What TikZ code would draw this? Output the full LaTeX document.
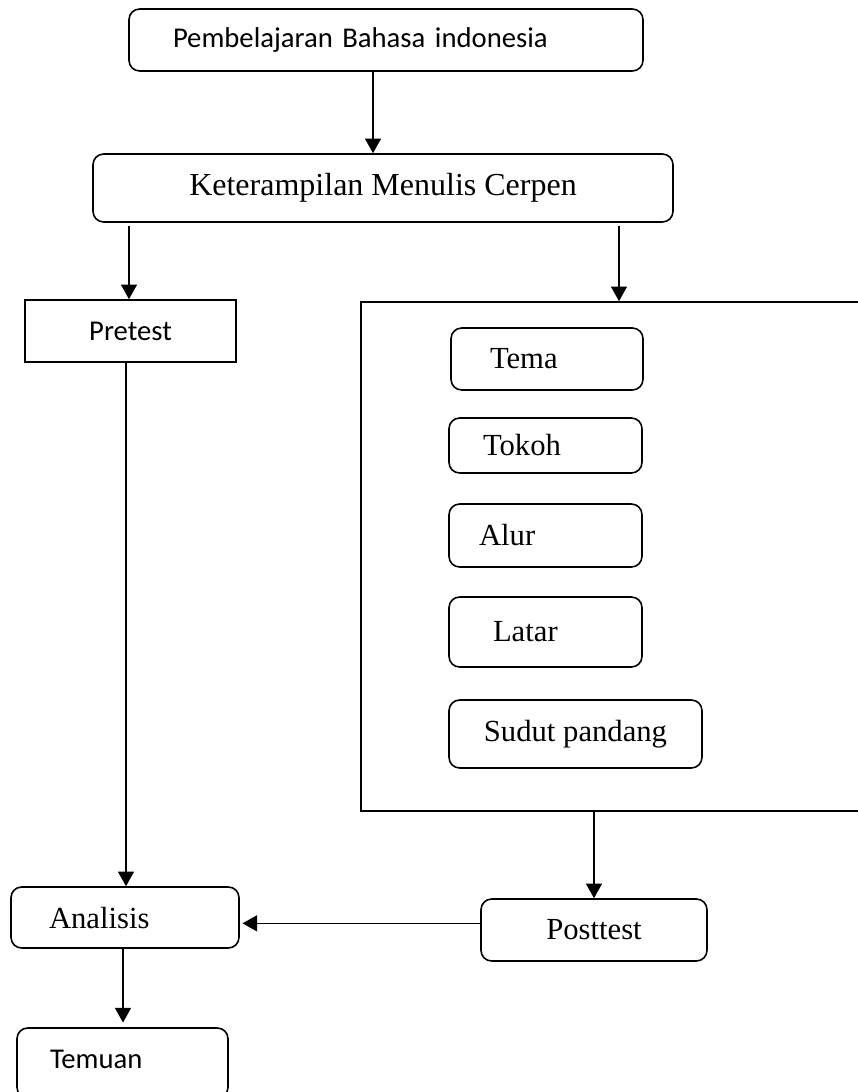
\documentclass[tikz,border=0pt]{standalone}
\usepackage{fontspec}
\setmainfont{Liberation Serif}
\newfontfamily\calibri{Carlito}
\usetikzlibrary{arrows.meta}

\begin{document}
\begin{tikzpicture}[
  x=0.75pt, y=-0.75pt,
  rbox/.style={draw, line width=1.2pt, rounded corners=8pt, inner sep=0pt},
  sbox/.style={draw, line width=1.2pt, inner sep=0pt},
  serif/.style={font=\fontsize{23}{27}\selectfont},
  sans/.style={font=\calibri\fontsize{21.5}{26}\selectfont},
  arr/.style={-{Triangle[length=11pt,width=12pt]}, line width=1.1pt}
]
\useasboundingbox (0,0) rectangle (857,1092);

% Top of the chart
\node[rbox, sans, minimum width=385.5pt, minimum height=46.5pt, inner xsep=33pt, text width=319.5pt, align=left] (top) at (386,40) {Pembelajaran Bahasa indonesia};
\node[rbox, font=\fontsize{24}{28}\selectfont, minimum width=435pt, minimum height=51pt] (ket) at (383,188) {Keterampilan Menulis Cerpen};

% Left branch
\node[sbox, sans, minimum width=158.25pt, minimum height=46.5pt] (pre) at (130.5,331) {Pretest};

% Right branch: frame with the elements
\node[sbox, minimum width=389.25pt, minimum height=381.75pt] (frame) at (620.5,556.5) {};
\node[rbox, serif, minimum width=144pt, minimum height=46.5pt, inner xsep=29.25pt, text width=85.5pt, align=left] (tema) at (547,359) {Tema};
\node[rbox, serif, minimum width=144.75pt, minimum height=41.25pt, inner xsep=25.5pt, text width=93.75pt, align=left] (tokoh) at (545.5,445.5) {Tokoh};
\node[rbox, serif, minimum width=144.75pt, minimum height=47.25pt, inner xsep=22.5pt, text width=99.75pt, align=left] (alur) at (545.5,535.5) {Alur};
\node[rbox, serif, minimum width=144.75pt, minimum height=52.5pt, inner xsep=33pt, text width=78.75pt, align=left] (latar) at (545.5,632) {Latar};
\node[rbox, serif, minimum width=189.75pt, minimum height=51pt] (sudut) at (575.5,734) {Sudut pandang};

% Bottom
\node[rbox, serif, minimum width=171pt, minimum height=45.75pt, inner xsep=28.5pt, text width=114pt, align=left] (ana) at (125,917.5) {Analisis};
\node[rbox, serif, minimum width=169.5pt, minimum height=46.5pt] (post) at (594,930) {Posttest};
\node[rbox, sans, minimum width=158.25pt, minimum height=52.5pt, inner xsep=24.75pt, text width=108.75pt, align=left, text height=15pt, text depth=7.5pt] (tem) at (122.5,1063) {Temuan};

% Arrows
\coordinate (kL) at (129,226);
\coordinate (kR) at (619,226);
\draw[arr] (top.south -| 373,0) -- (ket.north -| 373,0);
\draw[arr] (kL) -- (kL |- pre.north);
\draw[arr] (kR) -- (kR |- frame.north);
\draw[arr] (pre.south -| 126,0) -- (ana.north -| 126,0);
\draw[arr] (frame.south -| post.north) -- (post.north);
\draw[arr, shorten >=2pt] ([yshift=5pt]post.west) -- ([yshift=5pt]post.west -| ana.east);
\draw[arr, shorten >=3.5pt] (ana.south -| 123,0) -- (tem.north -| 123,0);
\end{tikzpicture}
\end{document}
